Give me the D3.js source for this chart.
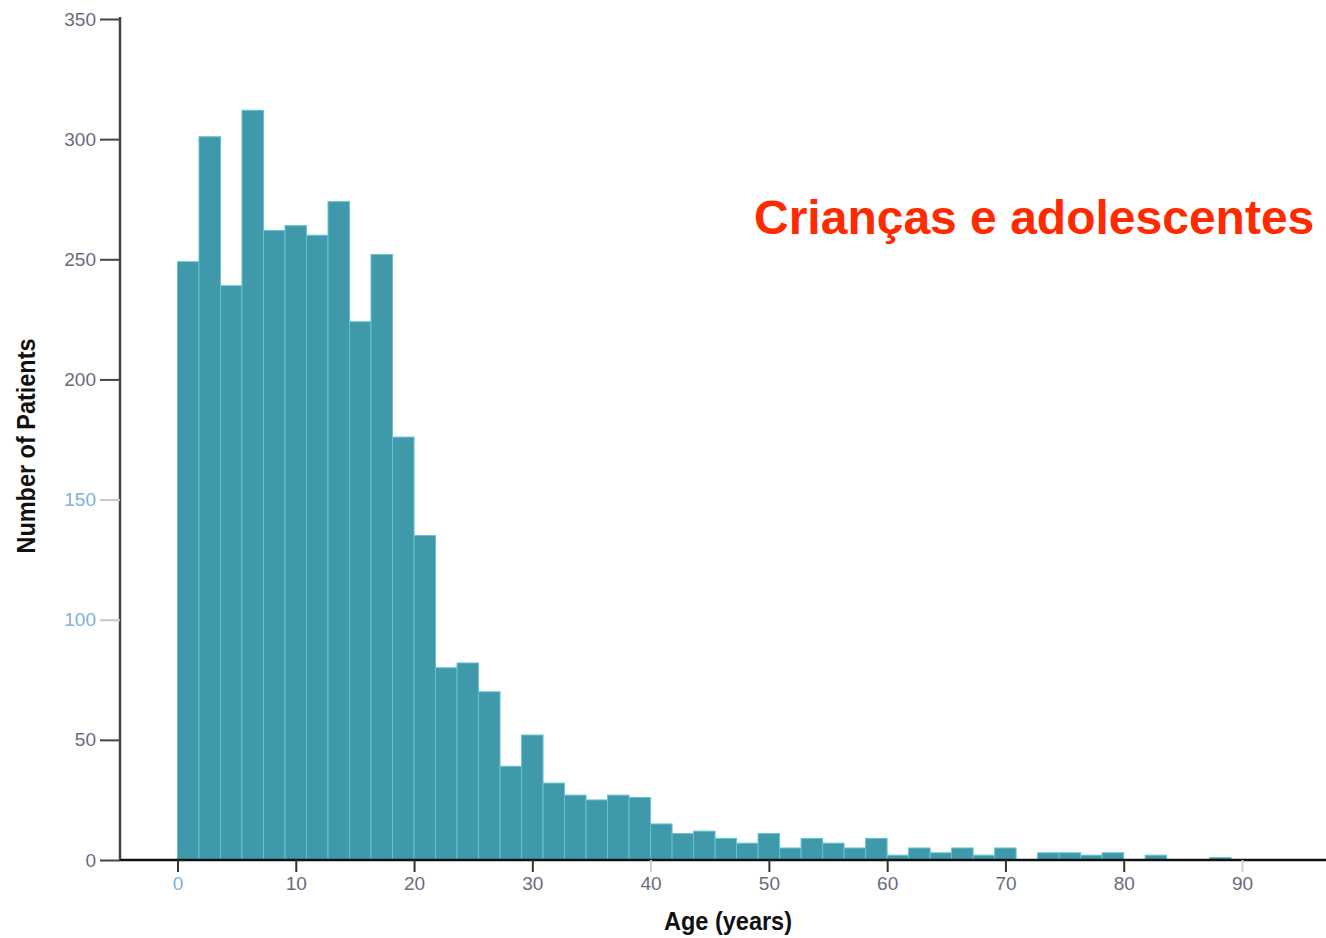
<!DOCTYPE html>
<html>
<head>
<meta charset="utf-8">
<script src="https://cdn.jsdelivr.net/npm/d3@7"></script>
<style>
  html, body { margin: 0; padding: 0; background: #fff; }
  svg { display: block; }
</style>
</head>
<body>
<svg id="chart" width="1326" height="938"></svg>
<script>
// ---- data ----
const binWidth = 1.818; // years per bin
const counts = [249, 301, 239, 312, 262, 264, 260, 274, 224, 252,
                176, 135, 80, 82, 70, 39, 52, 32, 27, 25,
                27, 26, 15, 11, 12, 9, 7, 11, 5, 9,
                7, 5, 9, 2, 5, 3, 5, 2, 5, 0,
                3, 3, 2, 3, 0, 2, 0, 0, 1];
const xTicks = [0, 10, 20, 30, 40, 50, 60, 70, 80, 90];
const yTicks = [0, 50, 100, 150, 200, 250, 300, 350];
const faintXTicks = [40, 90];
const faintYTicks = [100, 150];
const title = "Crianças e adolescentes";
const xLabel = "Age (years)";
const yLabel = "Number of Patients";

// ---- drawing ----
const svg = d3.select("#chart");
const x = d3.scaleLinear().domain([0, 90]).range([177.5, 1242]);
const y = d3.scaleLinear().domain([0, 350]).range([860, 19]);

const bins = counts.map((c, i) => ({x0: i * binWidth, x1: (i + 1) * binWidth, n: c}));

svg.append("g").selectAll("rect")
  .data(bins.filter(d => d.n > 0))
  .join("rect")
  .attr("x", d => x(d.x0))
  .attr("y", d => y(d.n))
  .attr("width", d => x(d.x1) - x(d.x0))
  .attr("height", d => y(0) - y(d.n))
  .attr("fill", "#3f99ab")
  .attr("stroke", "#63c4cf")
  .attr("stroke-width", 1);

// y axis
const yAxis = svg.append("g").attr("transform", "translate(120,0)")
  .call(d3.axisLeft(y).tickValues(yTicks).tickSize(20).tickPadding(4).tickFormat(d3.format("d")));
yAxis.select(".domain").attr("stroke", "#444").attr("stroke-width", 2.5).attr("d", `M0,${y(350)-2}V${y(0)}`);
yAxis.selectAll(".tick line")
  .attr("stroke", d => faintYTicks.includes(d) ? "#c8c8c8" : "#444")
  .attr("stroke-width", 2);
yAxis.selectAll(".tick text")
  .attr("font-family", "'Liberation Sans', Arial, sans-serif")
  .attr("font-size", 19)
  .attr("fill", d => faintYTicks.includes(d) ? "#7fb0d8" : "#6a6a80");

// x axis
const xAxis = svg.append("g").attr("transform", "translate(0,860)")
  .call(d3.axisBottom(x).tickValues(xTicks).tickSize(12).tickPadding(5).tickFormat(d3.format("d")));
xAxis.select(".domain").attr("stroke", "#111").attr("stroke-width", 2.5).attr("d", "M120,0H1326");
xAxis.selectAll(".tick line")
  .attr("stroke", d => faintXTicks.includes(d) ? "#d0d0d0" : "#333")
  .attr("stroke-width", 2);
xAxis.selectAll(".tick text")
  .attr("font-family", "'Liberation Sans', Arial, sans-serif")
  .attr("font-size", 19)
  .attr("fill", d => d === 0 ? "#7fb0d8" : "#6a6a80");

// axis titles (condensed look via textLength)
svg.append("text")
  .attr("x", 728).attr("y", 930)
  .attr("text-anchor", "middle")
  .attr("font-family", "'Liberation Sans', Arial, sans-serif")
  .attr("font-weight", "bold")
  .attr("font-size", 25)
  .attr("textLength", 128)
  .attr("lengthAdjust", "spacingAndGlyphs")
  .attr("fill", "#111")
  .text(xLabel);

svg.append("text")
  .attr("transform", "translate(35,446) rotate(-90)")
  .attr("text-anchor", "middle")
  .attr("font-family", "'Liberation Sans', Arial, sans-serif")
  .attr("font-weight", "bold")
  .attr("font-size", 26)
  .attr("textLength", 215)
  .attr("lengthAdjust", "spacingAndGlyphs")
  .attr("fill", "#111")
  .text(yLabel);

// annotation
svg.append("text")
  .attr("x", 754).attr("y", 234)
  .attr("font-family", "'Liberation Sans', Arial, Helvetica, sans-serif")
  .attr("font-weight", "bold")
  .attr("font-size", 48)
  .attr("fill", "#ff2a00")
  .text(title);
</script>
</body>
</html>
